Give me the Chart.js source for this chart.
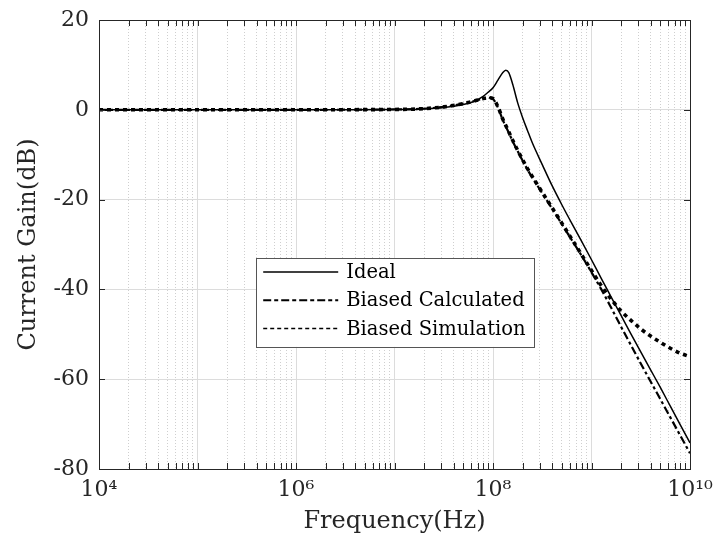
<!DOCTYPE html>
<html>
<head>
<meta charset="utf-8">
<script src="https://cdn.jsdelivr.net/npm/chart.js@4.4.0/dist/chart.umd.min.js"></script>
<style>
  html, body { margin: 0; padding: 0; background: #fff; }
</style>
</head>
<body>
<canvas id="chart1" width="713" height="546"></canvas>
<script>
// log10 of frequency (Hz)
const logFreq = [4, 5, 6, 6.5, 7, 7.25, 7.5, 7.7, 7.8, 7.9, 7.95, 8.0, 8.05, 8.1, 8.13, 8.16, 8.2, 8.25, 8.3, 8.35, 8.4,
  8.5, 8.6, 8.7, 8.8, 8.9, 9.0, 9.1, 9.2, 9.3, 9.4, 9.5, 9.6, 9.7, 9.8, 9.9, 10];
const idealGain = [0, 0, 0, 0.02, 0.05, 0.15, 0.5, 1.2, 1.8, 3.0, 3.9, 4.9, 6.6, 8.3, 8.8, 8.3, 5.7, 1.6, -1.7, -4.6, -7.4,
  -12.2, -16.9, -21.2, -25.3, -29.3, -33.4, -37.6, -41.7, -45.8, -49.9, -53.9, -57.9, -61.9, -66.0, -70.1, -74.2];
const calcGain = [0, 0, 0, 0.02, 0.08, 0.2, 0.65, 1.4, 1.9, 2.5, 2.7, 2.4, 0.5, -2.3, -3.7, -5.1, -7.0, -9.2, -11.3, -13.3, -15.1,
  -18.6, -22.0, -25.5, -29.0, -32.5, -36.2, -40.0, -44.1, -48.3, -52.4, -56.5, -60.5, -64.5, -68.5, -72.5, -76.5];
const simGain = [0, 0, 0, 0.02, 0.08, 0.2, 0.65, 1.4, 1.9, 2.5, 2.7, 2.5, 0.7, -2.1, -3.5, -4.9, -6.8, -9.0, -11.1, -13.1, -14.9,
  -18.4, -21.8, -25.3, -28.8, -32.3, -35.8, -39.2, -42.2, -44.8, -46.9, -48.8, -50.4, -51.8, -53.1, -54.2, -55.0];

const seriesNames = ["Ideal", "Biased Calculated", "Biased Simulation"];
const xTickLabels = { 4: "10\u2074", 6: "10\u2076", 8: "10\u2078", 10: "10\u00b9\u2070" };
const yTicks = [-80, -60, -40, -20, 0, 20];

const toPoints = (vals) => logFreq.map((e, i) => ({ x: Math.pow(10, e), y: vals[i] }));
const isDecade = (v) => Math.abs(Math.log10(v) - Math.round(Math.log10(v))) < 1e-9;

const axisColor = "#262626";
const serif = "'DejaVu Serif', serif";

// legend swatch styles, MATLAB-like
const legendStyles = [
  { width: 1.5, dash: [] },
  { width: 2.2, dash: [8, 3, 4, 3] },
  { width: 1.5, dash: [4, 3] },
];

const framePlugin = {
  id: "frame",
  afterDraw(chart) {
    const { ctx, chartArea: a, scales } = chart;
    ctx.save();
    // inward ticks
    ctx.strokeStyle = axisColor;
    ctx.lineWidth = 1;
    ctx.beginPath();
    scales.x.ticks.forEach((t) => {
      const px = Math.round(scales.x.getPixelForValue(t.value)) + 0.5;
      ctx.moveTo(px, a.bottom); ctx.lineTo(px, a.bottom - 6);
      ctx.moveTo(px, a.top); ctx.lineTo(px, a.top + 6);
    });
    scales.y.ticks.forEach((t) => {
      const py = Math.round(scales.y.getPixelForValue(t.value)) + 0.5;
      ctx.moveTo(a.left, py); ctx.lineTo(a.left + 6, py);
      ctx.moveTo(a.right, py); ctx.lineTo(a.right - 6, py);
    });
    ctx.stroke();
    // box
    ctx.strokeRect(Math.round(a.left) + 0.5, Math.round(a.top) + 0.5,
      Math.round(a.right - a.left), Math.round(a.bottom - a.top));

    // legend box inside the axes
    const w = a.right - a.left, h = a.bottom - a.top;
    const bx = a.left + 0.266 * w, by = a.top + 0.530 * h;
    const bw = 0.470 * w, bh = 0.198 * h;
    ctx.fillStyle = "#fff";
    ctx.fillRect(bx, by, bw, bh);
    ctx.strokeStyle = "#555";
    ctx.lineWidth = 1;
    ctx.strokeRect(Math.round(bx) + 0.5, Math.round(by) + 0.5, Math.round(bw), Math.round(bh));
    ctx.font = "19.5px " + serif;
    ctx.textBaseline = "middle";
    seriesNames.forEach((name, i) => {
      const cy = by + 14 + i * 28.3;
      ctx.strokeStyle = "#000";
      ctx.lineWidth = legendStyles[i].width;
      ctx.setLineDash(legendStyles[i].dash);
      ctx.beginPath();
      ctx.moveTo(bx + 7, cy);
      ctx.lineTo(bx + 82, cy);
      ctx.stroke();
      ctx.setLineDash([]);
      ctx.fillStyle = "#000";
      ctx.fillText(name, bx + 90, cy + 1);
    });
    ctx.restore();
  },
};

const chart1 = new Chart(document.getElementById("chart1").getContext("2d"), {
  type: "line",
  data: {
    datasets: [
      {
        label: seriesNames[0],
        data: toPoints(idealGain),
        borderColor: "#000",
        borderWidth: 1.5,
      },
      {
        label: seriesNames[1],
        data: toPoints(calcGain),
        borderColor: "#000",
        borderWidth: 2.2,
        borderDash: [8, 3, 3, 3],
      },
      {
        label: seriesNames[2],
        data: toPoints(simGain),
        borderColor: "#000",
        borderWidth: 3.6,
        borderDash: [4, 4],
      },
    ],
  },
  options: {
    responsive: false,
    animation: false,
    devicePixelRatio: 1,
    layout: { padding: { top: 20, right: 23, left: 0, bottom: 0 } },
    elements: {
      point: { radius: 0 },
      line: { cubicInterpolationMode: "monotone", fill: false },
    },
    plugins: {
      legend: { display: false },
      tooltip: { enabled: false },
    },
    scales: {
      x: {
        type: "logarithmic",
        min: 1e4,
        max: 1e10,
        afterBuildTicks: (scale) => {
          const ticks = [];
          for (let e = 4; e < 10; e++) {
            for (let m = 1; m <= 9; m++) ticks.push({ value: m * Math.pow(10, e) });
          }
          ticks.push({ value: 1e10 });
          scale.ticks = ticks;
        },
        afterFit: (scale) => {
          scale.height = 77;
          scale.paddingLeft = 0;
          scale.paddingRight = 0;
        },
        ticks: {
          autoSkip: false,
          maxRotation: 0,
          padding: 8,
          color: axisColor,
          font: { family: serif, size: 22 },
          callback: (v) => {
            if (!isDecade(v)) return "";
            return xTickLabels[Math.round(Math.log10(v))] || "";
          },
        },
        grid: {
          drawTicks: false,
          color: (c) => (c.tick && isDecade(c.tick.value) ? "#dcdcdc" : "#cfcfcf"),
          lineWidth: 1,
        },
        border: {
          color: axisColor,
          dash: (c) => (c.tick && isDecade(c.tick.value) ? [] : [1, 2]),
        },
        title: {
          display: true,
          text: "Frequency(Hz)",
          color: axisColor,
          font: { family: serif, size: 24 },
          padding: { top: 0, bottom: 10 },
        },
      },
      y: {
        min: -80,
        max: 20,
        afterBuildTicks: (scale) => { scale.ticks = yTicks.map((v) => ({ value: v })); },
        afterFit: (scale) => {
          scale.width = 99;
          scale.paddingTop = 0;
          scale.paddingBottom = 0;
        },
        ticks: {
          padding: 10,
          color: axisColor,
          font: { family: serif, size: 22 },
        },
        grid: { drawTicks: false, color: "#dcdcdc", lineWidth: 1 },
        border: { color: axisColor },
        title: {
          display: true,
          text: "Current Gain(dB)",
          color: axisColor,
          font: { family: serif, size: 24 },
          padding: { top: 14, bottom: 0 },
        },
      },
    },
  },
  plugins: [framePlugin],
});
</script>
</body>
</html>
